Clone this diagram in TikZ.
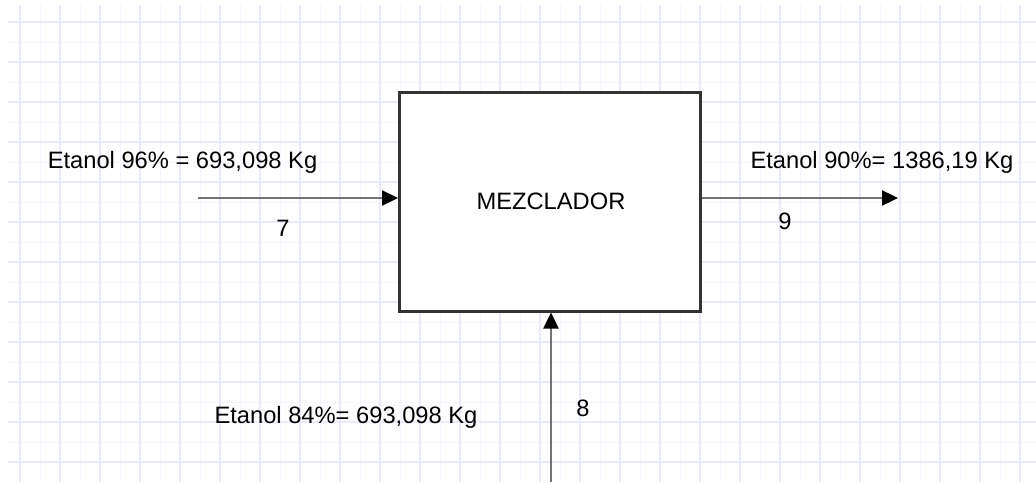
\documentclass[tikz,border=0pt]{standalone}
\usepackage{fontspec}
\setmainfont{Liberation Sans}
\usetikzlibrary{arrows.meta}
\definecolor{gridminor}{RGB}{245,245,255}
\definecolor{gridmajor}{RGB}{234,234,253}
\definecolor{boxline}{RGB}{51,51,51}
\definecolor{flowline}{RGB}{115,115,115}
\tikzset{
  unitbox/.style={draw=boxline, line width=3pt, fill=white, inner sep=0pt,
    minimum width=300.5pt, minimum height=219pt},
  flow/.style={draw=flowline, line width=2.4pt,
    -{Triangle[length=16pt,width=15pt,color=black,fill=black]}},
  lbl/.style={font=\fontsize{23.7}{28}\selectfont, inner sep=0pt, anchor=base, text=black},
}
\begin{document}
\begin{tikzpicture}[x=1pt,y=-1pt]
  \useasboundingbox (0,0) rectangle (1036,482);
  \fill[white] (0,0) rectangle (1036,482);
  % background grid: minor every 20, major every 40
  \foreach \k in {0,...,22} {
    \draw[gridminor, line width=1pt] (8,{22+20*\k}) -- (1036,{22+20*\k});
  }
  \foreach \k in {0,...,50} {
    \draw[gridminor, line width=1pt] ({20+20*\k},5) -- ({20+20*\k},482);
  }
  \foreach \k in {0,...,11} {
    \draw[gridmajor, line width=1.2pt] (8,{22+40*\k}) -- (1036,{22+40*\k});
  }
  \foreach \k in {0,...,25} {
    \draw[gridmajor, line width=1.2pt] ({20+40*\k},5) -- ({20+40*\k},482);
  }

  % mixer unit
  \node[unitbox] (mix) at (549.75,201.5) {};
  \node[lbl] (mixname) at (551,209) {MEZCLADOR};

  % stream end points
  \coordinate (in7) at (198,198);
  \coordinate (out9) at (898,198);
  \coordinate (in8) at (551,482);

  % streams
  \draw[flow] (in7) -- (in7 -| mix.west);
  \draw[flow] (mix.east |- out9) -- (out9);
  \draw[flow] (in8) -- (in8 |- mix.south);

  % stream labels
  \node[lbl] (s7txt) at (182.5,168.5) {Etanol 96\% = 693,098 Kg};
  \node[lbl] (s7num) at (283,236.5) {7};
  \node[lbl] (s9txt) at (882,168.5) {Etanol 90\%= 1386,19 Kg};
  \node[lbl] (s9num) at (785,229.5) {9};
  \node[lbl] (s8txt) at (346,423) {Etanol 84\%= 693,098 Kg};
  \node[lbl] (s8num) at (583,416.5) {8};
\end{tikzpicture}
\end{document}
